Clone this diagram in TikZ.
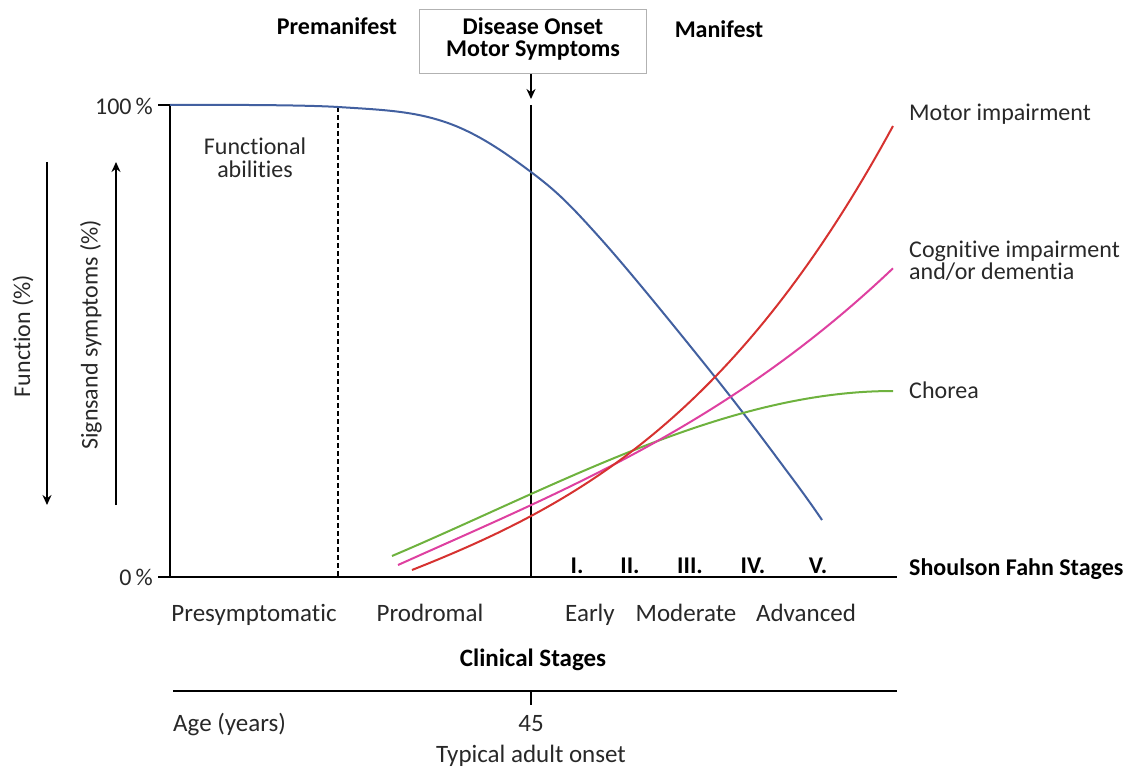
\documentclass[tikz,border=0pt]{standalone}
\usepackage{fontspec}
\setmainfont{Carlito}[Ligatures=NoCommon]
\usetikzlibrary{arrows.meta}
\definecolor{funcblue}{RGB}{66,96,160}
\definecolor{motorred}{RGB}{214,50,48}
\definecolor{cogpink}{RGB}{222,64,160}
\definecolor{choreagreen}{RGB}{110,178,62}
\definecolor{txt}{RGB}{40,40,40}
\begin{document}
\begin{tikzpicture}[x=1pt,y=-1pt,
  lbl/.style={font=\fontsize{24}{24}\selectfont, text=txt, inner sep=0pt, anchor=base},
  body/.style={font=\fontsize{25}{27}\selectfont, text=txt, inner sep=0pt, anchor=base},
  head/.style={font=\bfseries\fontsize{24}{25}\selectfont, text=black, inner sep=0pt, anchor=base},
  axis/.style={line width=2.2pt, black},
  curve/.style={line width=2pt},
  arr/.style={line width=1.6pt, -{Stealth[length=10pt,width=9pt]}}]
\useasboundingbox (0,0) rectangle (1131,767);

% headings
\node[head] (pre) at (337,35) {Premanifest};
\node[head] (man) at (719,38) {Manifest};
\node[draw=black!30, line width=1pt, minimum width=227pt, minimum height=64pt, inner sep=0pt] (onset) at (532.5,42) {};
\node[head] (onset1) at (533,35) {Disease Onset};
\node[head] (onset2) at (533,57) {Motor Symptoms};

% axes
\coordinate (top0) at (170,105);
\coordinate (bot0) at (170,577);
\coordinate (t100) at (158,105);
\coordinate (bl) at (158,577);
\coordinate (br) at (897,577);
\draw[axis] (t100) -- (top0) -- (bot0);
\draw[axis] (bl) -- (br);
\coordinate (dtop) at (338,107);
\coordinate (dbot) at (338,577);
\draw[line width=1.5pt, dash pattern=on 5pt off 3pt] (dtop) -- (dbot);
\coordinate (otop) at (531,105);
\coordinate (obot) at (531,577);
\draw[axis] (otop) -- (obot);
\coordinate (arrend) at (531,99);
\draw[line width=1.6pt, -{Stealth[length=10pt,width=9pt]}] (onset.south -| otop) -- (arrend);

\node[lbl, anchor=base east] (p100) at (153,115) {100\,\%};
\node[lbl, anchor=base east] (p0) at (153,585) {0\,\%};

% side arrows
\coordinate (fa1) at (47,162);
\coordinate (fa2) at (47,505);
\draw[arr] (fa1) -- (fa2);
\coordinate (sa1) at (116,505);
\coordinate (sa2) at (116,162);
\draw[arr] (sa1) -- (sa2);
\node[lbl, anchor=center, rotate=90] (func) at (23,336) {Function (\%)};
\node[lbl, anchor=center, rotate=90] (signs) at (91,335) {Signsand symptoms (\%)};

\node[lbl] (fab1) at (255,155) {Functional};
\node[lbl] (fab2) at (255,178) {abilities};

% curves (heights above the 0 % line, u in hundreds of pt)
\draw[curve, funcblue, smooth, tension=0.6] plot coordinates {(170,105) (338,107) (445,122) (531,172) (600,238) (715,377) (792,478) (822,520)};
\draw[curve, choreagreen] plot[domain=392:893, samples=80, variable=\x]
  ({\x}, {577 - (21 + 42.57*((\x-392)/100) + 2.762*((\x-392)/100)^2 - 0.9354*((\x-392)/100)^3)});
\draw[curve, cogpink] plot[domain=398:893, samples=80, variable=\x]
  ({\x}, {577 - (12 + 45*((\x-398)/100) - 1.06*((\x-398)/100)^2 + 0.824*((\x-398)/100)^3)});
\draw[curve, motorred] plot[domain=412:893, samples=80, variable=\x]
  ({\x}, {577 - (7 + 39.62*((\x-412)/100) + 2.827*((\x-412)/100)^2 + 1.6896*((\x-412)/100)^3)});

% right labels
\node[lbl, anchor=base west] (lmotor) at (909,121) {Motor impairment};
\node[lbl, anchor=base west] (lcog1) at (909,257) {Cognitive impairment};
\node[lbl, anchor=base west] (lcog2) at (909,279) {and/or dementia};
\node[lbl, anchor=base west] (lchor) at (909,398) {Chorea};
\node[head, anchor=base west] (lsf) at (909,575) {Shoulson Fahn Stages};

% Shoulson Fahn stage numerals
\node[head] (s1) at (577,573) {I.};
\node[head] (s2) at (630,573) {II.};
\node[head] (s3) at (690,573) {III.};
\node[head] (s4) at (753,573) {IV.};
\node[head] (s5) at (818,573) {V.};

% clinical stages
\node[body] (cpre) at (254,621) {Presymptomatic};
\node[body] (cpro) at (430,621) {Prodromal};
\node[body] (cear) at (590,621) {Early};
\node[body] (cmod) at (686,621) {Moderate};
\node[body] (cadv) at (806,621) {Advanced};
\node[body, font=\bfseries\fontsize{25}{27}\selectfont, text=black] (cst) at (533,666) {Clinical Stages};

% age axis
\coordinate (al) at (173,691);
\coordinate (ar) at (897,691);
\draw[line width=1.8pt] (al) -- (ar);
\coordinate (tk1) at (531,691);
\coordinate (tk2) at (531,705);
\draw[line width=1.5pt] (tk1) -- (tk2);
\node[body, anchor=base west] (age) at (173,731) {Age (years)};
\node[body] (a45) at (531,731) {45};
\node[body] (typ) at (531,762) {Typical adult onset};
\end{tikzpicture}
\end{document}
